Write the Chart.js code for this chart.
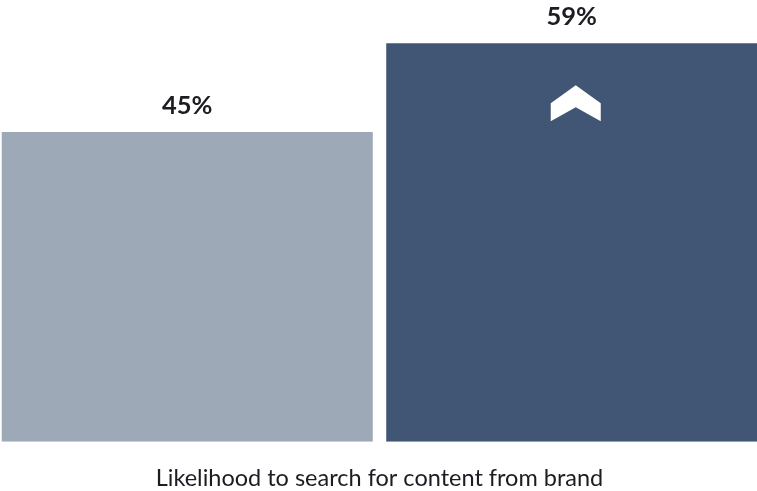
<!DOCTYPE html>
<html>
<head>
<meta charset="utf-8">
<script src="https://cdn.jsdelivr.net/npm/chart.js@4"></script>
<style>
  html, body { margin: 0; padding: 0; background: #fff; overflow: hidden; }
  #wrap { width: 769px; height: 491px; margin-left: -5px; }
</style>
</head>
<body>
<div id="wrap"><canvas id="brandChart"></canvas></div>
<script>
const categories = ['Group A', 'Group B'];
const values = [45, 59];
const valueLabels = ['45%', '59%'];
const barColors = ['#9ea9b8', '#415675'];
const axisTitle = 'Likelihood to search for content from brand';

const yMin = -3.8;
const yMax = 65.8;

// percentage above each bar
const topLabels = {
  id: 'topLabels',
  afterDatasetsDraw(chart) {
    const ctx = chart.ctx;
    const meta = chart.getDatasetMeta(0);
    ctx.save();
    ctx.fillStyle = '#1b1d22';
    ctx.font = 'bold 25.5px Lato';
    ctx.textAlign = 'center';
    ctx.textBaseline = 'alphabetic';
    meta.data.forEach((bar, i) => {
      ctx.fillText(valueLabels[i], bar.x, bar.y - 18);
    });
    ctx.restore();
  }
};

// white up chevron inside the taller bar
const chevron = {
  id: 'chevron',
  afterDatasetsDraw(chart) {
    const ctx = chart.ctx;
    const bar = chart.getDatasetMeta(0).data[1];
    const cx = bar.x + 4, top = bar.y + 42;
    ctx.save();
    ctx.fillStyle = '#ffffff';
    ctx.beginPath();
    ctx.moveTo(cx - 25, top + 18);
    ctx.lineTo(cx, top);
    ctx.lineTo(cx + 25, top + 18);
    ctx.lineTo(cx + 25, top + 36);
    ctx.lineTo(cx, top + 22);
    ctx.lineTo(cx - 25, top + 36);
    ctx.closePath();
    ctx.fill();
    ctx.restore();
  }
};

new Chart(document.getElementById('brandChart'), {
  type: 'bar',
  data: {
    labels: categories,
    datasets: [{
      data: values,
      base: yMin,
      backgroundColor: barColors,
      borderWidth: 0,
      categoryPercentage: 1,
      barPercentage: 0.965
    }]
  },
  options: {
    responsive: true,
    maintainAspectRatio: false,
    animation: false,
    layout: { padding: 0 },
    plugins: {
      legend: { display: false },
      tooltip: { enabled: false }
    },
    scales: {
      x: {
        grid: { display: false, drawTicks: false },
        border: { display: false },
        ticks: { display: false },
        title: {
          display: true,
          text: axisTitle,
          color: '#1b1d22',
          font: { family: 'Lato', size: 23.5 },
          padding: { top: 22.5, bottom: -1.5 }
        }
      },
      y: {
        display: false,
        min: yMin,
        max: yMax
      }
    }
  },
  plugins: [topLabels, chevron]
});
</script>
</body>
</html>
